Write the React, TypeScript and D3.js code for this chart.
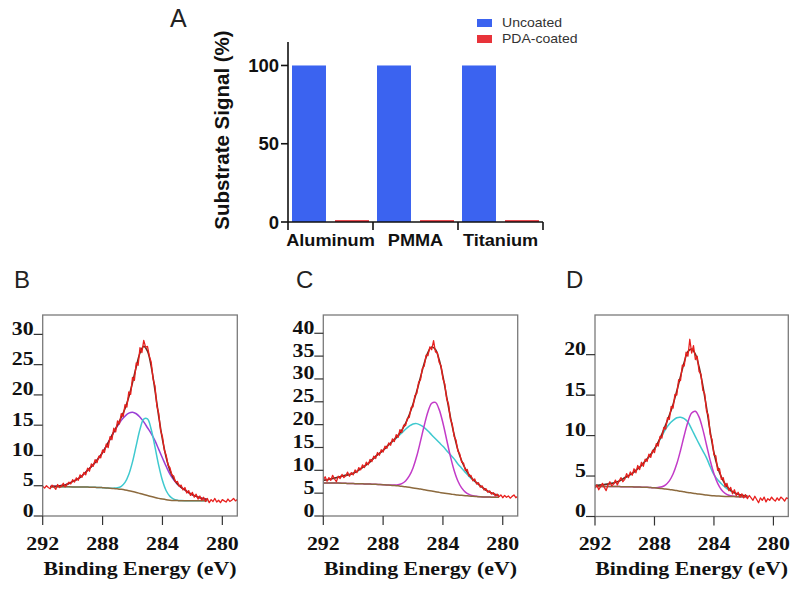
import React from 'react';
import * as d3 from 'd3';

// ---------------- Panel A data ----------------
const categories = ['Aluminum', 'PMMA', 'Titanium'];
const seriesNames = ['Uncoated', 'PDA-coated'];
const uncoatedValues = [100, 100, 100];
const pdaCoatedValues = [1.2, 1.2, 1.2];
const barTicks = [0, 50, 100];
const barYMax = 115;
const barColors = ['#3b63f0', '#e8333a'];

// ---------------- XPS panels data ----------------
const energyTicks = [292, 288, 284, 280];
const energyDomain = [292, 279];
const ticksB = [0, 5, 10, 15, 20, 25, 30];
const ticksC = [0, 5, 10, 15, 20, 25, 30, 35, 40];
const ticksD = [0, 5, 10, 15, 20];

const rawStart = 292;
const rawStep = 0.125;
const fitStep = 0.25;
const fitStartB = 291.5;
const fitStartC = 292;
const fitStartD = 292;

// Panel B
const baselineB = [4.85, 4.85, 4.85, 4.84, 4.83, 4.82, 4.81, 4.8, 4.79, 4.78, 4.77, 4.75, 4.73, 4.71, 4.68, 4.64, 4.6, 4.55, 4.48, 4.4, 4.3, 4.18, 4.04, 3.89, 3.72, 3.55, 3.38, 3.21, 3.05, 2.91, 2.79, 2.69, 2.62, 2.57, 2.54, 2.52, 2.51, 2.5, 2.5, 2.5, 2.5, 2.5, 2.5];
const purpleB = [0.03, 0.05, 0.1, 0.18, 0.3, 0.55, 0.9, 1.2, 1.6, 2.15, 2.8, 3.4, 4.1, 4.9, 5.8, 6.9, 8.1, 9.3, 10.4, 11.4, 12.2, 12.8, 13.1, 13.0, 12.6, 12.0, 11.2, 10.4, 9.4, 8.1, 6.8, 5.5, 4.3, 3.4, 2.7, 2.2, 1.8, 1.35, 1.0, 0.75, 0.52, 0.35, 0.22];
const cyanB = [0, 0, 0, 0, 0, 0, 0, 0, 0, 0, 0, 0, 0, 0, 0, 0, 0, 0.05, 0.18, 0.51, 1.26, 2.68, 4.9, 7.77, 10.6, 12.46, 12.65, 11.07, 8.36, 5.44, 3.06, 1.48, 0.62, 0.22, 0.07, 0.02, 0, 0, 0, 0, 0, 0, 0];
const rawB = [
  4.9, 4.6, 5.0, 4.7, 4.5, 5.1, 4.8, 4.4, 5.2,
  4.7, 4.9, 5.4, 4.8, 5.2, 5.6, 5.3, 6.0,
  5.6, 6.3, 5.9, 6.8, 6.4, 7.2, 6.8, 7.9,
  7.4, 8.6, 8.2, 9.3, 8.8, 9.9, 9.6, 10.9,
  10.5, 11.9, 11.3, 13.1, 12.6, 14.5, 13.9, 15.7,
  15.2, 16.9, 16.4, 18.4, 18.0, 20.5, 20.1, 22.9,
  22.4, 25.3, 24.9, 27.8, 27.0, 29.0, 27.9, 28.0,
  26.4, 25.4, 22.6, 21.5, 18.2, 17.0, 14.1, 13.1,
  10.9, 10.0, 8.4, 8.0, 6.8, 6.6, 5.6, 5.7,
  4.9, 5.1, 4.3, 4.7, 3.8, 4.2, 3.4, 3.9,
  3.1, 3.6, 2.8, 3.3, 2.6, 3.1, 2.4, 2.9,
  2.2, 2.7, 2.4, 2.9, 2.3, 2.6, 2.2, 2.7,
  2.5, 2.3, 2.8, 2.4, 2.6, 2.9, 2.5, 2.7,
];

// Panel C
const baselineC = [7.2, 7.2, 7.2, 7.2, 7.2, 7.18, 7.15, 7.12, 7.1, 7.07, 7.05, 7.02, 7.0, 6.97, 6.95, 6.9, 6.85, 6.8, 6.75, 6.68, 6.6, 6.5, 6.4, 6.28, 6.15, 6.02, 5.9, 5.75, 5.6, 5.45, 5.3, 5.17, 5.05, 4.92, 4.8, 4.7, 4.6, 4.52, 4.45, 4.37, 4.3, 4.25, 4.2, 4.17, 4.15, 4.12, 4.1, 4.1];
const cyanC = [0.6, 0.75, 0.9, 1.1, 1.3, 1.55, 1.75, 1.95, 2.25, 2.7, 3.3, 3.9, 4.5, 5.3, 6.1, 6.8, 7.55, 8.4, 9.2, 10.0, 10.8, 11.7, 12.6, 13.4, 14.0, 14.2, 14.0, 13.6, 13.0, 12.3, 11.6, 10.9, 10.2, 9.4, 8.6, 7.8, 6.8, 5.95, 5.1, 4.3, 3.6, 3.0, 2.4, 1.8, 1.3, 0.9, 0.6, 0.4];
const magentaC = [0, 0, 0, 0, 0, 0, 0, 0, 0, 0, 0, 0, 0, 0, 0, 0, 0, 0.01, 0.03, 0.1, 0.25, 0.59, 1.27, 2.48, 4.38, 7.1, 10.48, 14.07, 17.24, 19.23, 19.56, 18.12, 15.3, 11.78, 8.26, 5.28, 3.07, 1.63, 0.79, 0.35, 0.14, 0.05, 0.02, 0, 0, 0, 0, 0];
const rawC = [
  7.9, 8.6, 7.6, 8.4, 7.8, 8.9, 8.1, 7.5, 8.7,
  8.2, 9.1, 8.4, 8.8, 9.6, 8.7, 9.5, 9.0,
  10.1, 9.5, 10.6, 10.1, 11.2, 10.6, 11.8, 11.2,
  12.4, 11.9, 13.1, 12.6, 13.9, 13.3, 14.5, 14.0,
  15.3, 14.8, 16.0, 15.5, 16.9, 16.3, 17.8, 17.2,
  18.9, 18.3, 19.9, 19.8, 21.4, 21.6, 23.8, 23.9,
  26.4, 26.8, 29.3, 29.8, 32.3, 32.8, 35.2, 35.1,
  37.0, 36.4, 38.4, 35.9, 35.8, 33.6, 32.9, 30.0,
  28.9, 25.6, 24.5, 21.2, 20.1, 17.4, 16.6, 14.2,
  13.6, 11.8, 11.6, 10.0, 10.2, 8.7, 8.9, 7.7,
  8.1, 7.0, 7.3, 6.3, 6.6, 5.7, 6.0, 5.2,
  5.5, 4.8, 5.1, 4.4, 4.8, 4.2, 4.6, 4.0,
  4.5, 4.1, 4.4, 3.9, 4.3, 4.6, 4.0, 4.3,
];

// Panel D
const baselineD = [3.72, 3.72, 3.72, 3.71, 3.71, 3.7, 3.7, 3.69, 3.69, 3.68, 3.67, 3.65, 3.64, 3.62, 3.6, 3.57, 3.54, 3.5, 3.45, 3.4, 3.34, 3.27, 3.2, 3.12, 3.05, 2.97, 2.9, 2.83, 2.77, 2.71, 2.65, 2.6, 2.56, 2.53, 2.5, 2.48, 2.47, 2.46, 2.45, 2.45, 2.45, 2.45];
const cyanD = [0.1, 0.15, 0.2, 0.27, 0.35, 0.45, 0.58, 0.8, 1.1, 1.35, 1.65, 2.05, 2.45, 2.95, 3.5, 4.1, 4.8, 5.6, 6.5, 7.4, 8.1, 8.6, 9.0, 9.15, 9.05, 8.7, 7.9, 7.05, 6.2, 5.4, 4.6, 3.55, 2.6, 2.0, 1.55, 1.15, 0.82, 0.55, 0.36, 0.22, 0.13, 0.07];
const magentaD = [0, 0, 0, 0, 0, 0, 0, 0, 0, 0, 0, 0, 0, 0, 0, 0, 0, 0.09, 0.23, 0.52, 1.06, 1.98, 3.31, 5.04, 6.96, 8.71, 9.88, 10.18, 9.51, 8.05, 6.19, 4.31, 2.72, 1.56, 0.81, 0.38, 0.16, 0.06, 0.02, 0, 0, 0];
const rawD = [
  3.5, 3.9, 3.3, 3.7, 4.1, 3.6, 3.2, 3.9, 4.3,
  3.8, 4.0, 4.5, 3.9, 4.4, 4.8, 4.3, 4.6,
  5.3, 4.8, 5.5, 5.1, 5.9, 5.4, 6.3, 5.8,
  6.7, 6.2, 7.1, 6.8, 7.7, 7.3, 8.2, 7.9,
  9.0, 8.7, 9.9, 9.7, 11.0, 10.8, 12.2, 12.0,
  13.6, 13.4, 15.1, 15.0, 16.9, 16.8, 18.7, 18.6,
  20.3, 19.8, 21.9, 20.2, 21.1, 19.4, 19.8, 17.9,
  17.6, 15.6, 15.2, 13.0, 12.5, 10.1, 9.5, 7.6,
  7.5, 5.7, 5.9, 4.6, 4.8, 3.7, 4.1, 3.2,
  3.6, 2.8, 3.3, 2.6, 3.0, 2.4, 2.8, 2.3,
  2.7, 2.2, 2.6, 2.3, 2.0, 2.5, 2.1, 1.7,
  2.3, 2.0, 2.4, 1.8, 2.2, 2.0, 2.4, 2.1,
  1.9, 2.3, 2.0, 2.4, 2.2, 1.9, 2.3, 2.2,
];

const COL = {
  raw: '#e8201e',
  env: '#6e2a1c',
  base: '#8c6a3e',
  purple: '#9a3fd6',
  cyan: '#3fc9cf',
  magenta: '#c23bc8',
  frame: '#7a7a7a',
};

const SANS = "'Liberation Sans', Arial, Helvetica, sans-serif";
const SERIF = "'Liberation Serif', 'Times New Roman', serif";

type Comp = { values: number[]; color: string };

function STxt(props: { x: number; y: number; sx?: number; anchor?: string; size: number; weight?: string | number; family: string; fill?: string; children: React.ReactNode }) {
  const { x, y, sx = 1, anchor = 'start', size, weight = 'normal', family, fill = '#111', children } = props;
  return (
    <text transform={`translate(${x},${y}) scale(${sx},1)`} textAnchor={anchor} fontSize={size} fontWeight={weight} fontFamily={family} fill={fill}>
      {children}
    </text>
  );
}

function XpsPanel(props: {
  id: string; label: string; labelX: number;
  x0: number; x1: number; y0: number; y1: number;
  yMax: number; yTicks: number[]; fitStart: number;
  baseline: number[]; comps: Comp[]; raw: number[];
}) {
  const { id, label, labelX, x0, x1, y0, y1, yMax, yTicks, fitStart, baseline, comps, raw } = props;
  const x = d3.scaleLinear().domain(energyDomain).range([x0, x1]);
  const y = d3.scaleLinear().domain([0, yMax]).range([y1, y0]);
  const smooth = d3.line<[number, number]>().x(d => x(d[0])).y(d => y(d[1])).curve(d3.curveCatmullRom.alpha(0.5));
  const straight = d3.line<[number, number]>().x(d => x(d[0])).y(d => y(d[1]));
  const fitE = baseline.map((_, i) => fitStart - i * fitStep);
  const basePath = smooth(fitE.map((e, i) => [e, baseline[i]] as [number, number]));
  const compPaths = comps.map(c => ({ color: c.color, d: smooth(fitE.map((e, i) => [e, baseline[i] + c.values[i]] as [number, number])) }));
  const envPath = smooth(fitE.map((e, i) => [e, baseline[i] + comps.reduce((s, c) => s + c.values[i], 0)] as [number, number]));
  const rawPath = straight(raw.map((v, i) => [rawStart - i * rawStep, v] as [number, number]));
  const sx = 1.15;
  return (
    <g>
      <defs>
        <clipPath id={`clip-${id}`}>
          <rect x={x0} y={y0} width={x1 - x0} height={y1 - y0} />
        </clipPath>
      </defs>
      <STxt x={labelX} y={288} size={24} family={SANS} fill="#222">{label}</STxt>
      <g clipPath={`url(#clip-${id})`} fill="none" strokeLinejoin="round">
        {compPaths.map((c, i) => (
          <path key={i} d={c.d || ''} stroke={c.color} strokeWidth={1.5} />
        ))}
        <path d={basePath || ''} stroke={COL.base} strokeWidth={1.5} />
        <path d={envPath || ''} stroke={COL.env} strokeWidth={1.6} />
        <path d={rawPath || ''} stroke={COL.raw} strokeWidth={1.3} />
      </g>
      <rect x={x0} y={y0} width={x1 - x0} height={y1 - y0} fill="none" stroke={COL.frame} strokeWidth={1.3} />
      {yTicks.map(t => (
        <g key={t}>
          <line x1={x0 - 9} x2={x0} y1={y(t)} y2={y(t)} stroke="#333" strokeWidth={1.2} />
          <STxt x={x0 - 9} y={y(t) + 0.5} sx={sx} anchor="end" size={19} weight="bold" family={SERIF}>{t}</STxt>
        </g>
      ))}
      {energyTicks.map(t => (
        <g key={t}>
          <line x1={x(t)} x2={x(t)} y1={y1} y2={y1 + 9} stroke="#333" strokeWidth={1.2} />
          <STxt x={x(t)} y={550} sx={sx} anchor="middle" size={19} weight="bold" family={SERIF}>{t}</STxt>
        </g>
      ))}
      <STxt x={(x0 + x1) / 2} y={575} sx={sx} anchor="middle" size={19} weight="bold" family={SERIF}>Binding Energy (eV)</STxt>
    </g>
  );
}

function BarPanel() {
  const xOuter = d3.scaleBand<string>().domain(categories).range([288, 543]).paddingInner(0).paddingOuter(0);
  const xInner = d3.scaleBand<string>().domain(seriesNames).range([0, xOuter.bandwidth()]).paddingInner(0.21).paddingOuter(0.093);
  const y = d3.scaleLinear().domain([0, barYMax]).range([222, 42]);
  const series = [uncoatedValues, pdaCoatedValues];
  const boundaries = categories.map(c => (xOuter(c) as number) + xOuter.bandwidth());
  return (
    <g>
      <STxt x={170} y={27} size={25} family={SANS} fill="#222">A</STxt>
      {categories.map((c, ci) =>
        seriesNames.map((s, si) => (
          <rect key={c + s} x={(xOuter(c) as number) + (xInner(s) as number)} width={xInner.bandwidth()}
            y={y(series[si][ci])} height={y(0) - y(series[si][ci])} fill={barColors[si]} />
        ))
      )}
      <line x1={288} x2={288} y1={42} y2={230} stroke="#111" strokeWidth={1.6} />
      <line x1={288} x2={543} y1={222} y2={222} stroke="#111" strokeWidth={1.6} />
      {boundaries.map((b, i) => (
        <line key={i} x1={b} x2={b} y1={222} y2={230} stroke="#111" strokeWidth={1.6} />
      ))}
      {barTicks.map(t => (
        <g key={t}>
          <line x1={281} x2={288} y1={y(t)} y2={y(t)} stroke="#111" strokeWidth={1.6} />
          <STxt x={279} y={y(t) + 6.5} anchor="end" size={18.5} weight="bold" family={SANS}>{t}</STxt>
        </g>
      ))}
      {categories.map(c => (
        <STxt key={c} x={(xOuter(c) as number) + xOuter.bandwidth() / 2} y={246} sx={1.1} anchor="middle" size={16.5} weight="bold" family={SANS}>{c}</STxt>
      ))}
      <text transform="translate(229,130) rotate(-90)" textAnchor="middle" fontSize={20.5} fontWeight="bold" fontFamily={SANS} fill="#111">
        Substrate Signal (%)
      </text>
      {seriesNames.map((s, i) => (
        <g key={s}>
          <rect x={477} y={19 + i * 16} width={15} height={8} fill={barColors[i]} />
          <STxt x={502} y={27 + i * 16} sx={1.08} size={13} family={SANS} fill="#333">{s}</STxt>
        </g>
      ))}
    </g>
  );
}

export default function App() {
  return (
    <svg width={800} height={589} viewBox="0 0 800 589" style={{ position: 'absolute', left: 0, top: 0, display: 'block', background: '#fff' }}>
      <rect x={0} y={0} width={800} height={589} fill="#fff" />
      <BarPanel />
      <XpsPanel id="B" label="B" labelX={14} x0={42.7} x1={237.3} y0={315} y1={516} yMax={33.2} yTicks={ticksB}
        fitStart={fitStartB} baseline={baselineB}
        comps={[{ values: purpleB, color: COL.purple }, { values: cyanB, color: COL.cyan }]} raw={rawB} />
      <XpsPanel id="C" label="C" labelX={296} x0={323.3} x1={517.7} y0={315} y1={516} yMax={44} yTicks={ticksC}
        fitStart={fitStartC} baseline={baselineC}
        comps={[{ values: cyanC, color: COL.cyan }, { values: magentaC, color: COL.magenta }]} raw={rawC} />
      <XpsPanel id="D" label="D" labelX={566} x0={595} x1={788.3} y0={315} y1={516.5} yMax={24.9} yTicks={ticksD}
        fitStart={fitStartD} baseline={baselineD}
        comps={[{ values: cyanD, color: COL.cyan }, { values: magentaD, color: COL.magenta }]} raw={rawD} />
    </svg>
  );
}
